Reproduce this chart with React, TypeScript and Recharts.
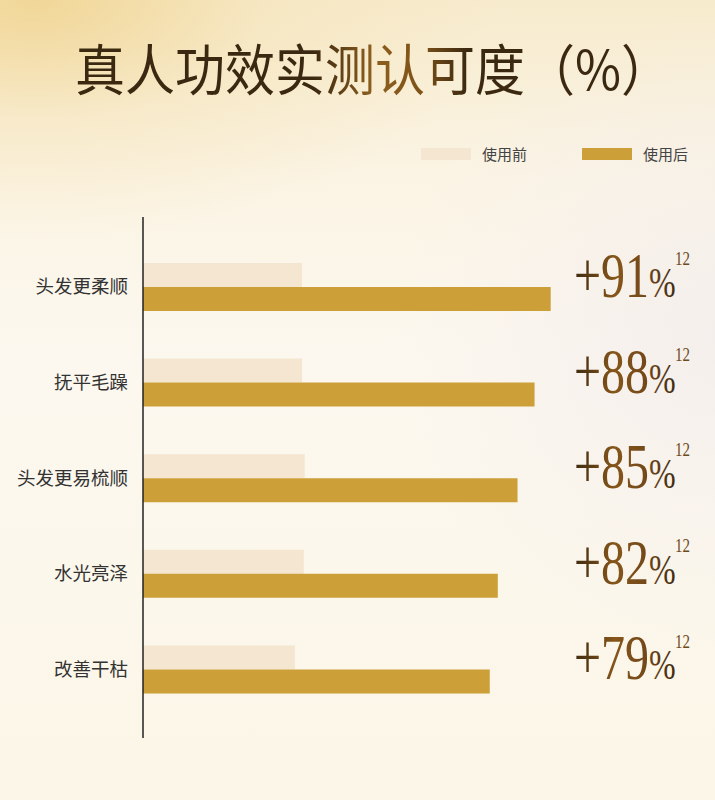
import { BarChart, Bar, XAxis, YAxis, Legend, LabelList } from "recharts";

const categories = ["头发更柔顺", "抚平毛躁", "头发更易梳顺", "水光亮泽", "改善干枯"];
const beforeValues = [35.5, 35.5, 36.1, 35.9, 33.9];
const afterValues = [91.0, 87.4, 83.6, 79.2, 77.4];
const gains = [91, 88, 85, 82, 79];
const footnote = "12";
const seriesNames = ["使用前", "使用后"];

const BEFORE_COLOR = "#f4e6d0";
const AFTER_COLOR = "#cc9f38";
const CJK = '"Noto Sans CJK SC", "Noto Sans", sans-serif';
const SERIF = '"Liberation Serif", serif';

const data = categories.map((name, i) => ({
  name,
  before: beforeValues[i],
  after: afterValues[i],
  gain: gains[i],
}));

// big "+91%" numbers on the right, a bit condensed like the original typeface
function GainLabel(props: any) {
  const { y, height, value } = props;
  const base = y + height / 2 - 2;
  return (
    <g transform={`translate(0 ${base}) scale(1 1.3)`}>
      <text x={574} y={0} fill="url(#numGrad)" fontFamily={SERIF}>
        <tspan fontSize={48}>{`+${value}`}</tspan>
        <tspan fontSize={32}>%</tspan>
      </text>
      <text x={675} y={-24.5} fill="#6b4a1c" fontSize={15} fontFamily={SERIF}>
        {footnote}
      </text>
    </g>
  );
}

function LegendContent() {
  const colors = [BEFORE_COLOR, AFTER_COLOR];
  const lefts = [421, 582];
  return (
    <div style={{ position: "relative", width: 715, height: 0 }}>
      {seriesNames.map((n, i) => (
        <div key={n} style={{ position: "absolute", left: lefts[i], top: 0, display: "flex", alignItems: "center" }}>
          <div style={{ width: 50, height: 12, background: colors[i] }} />
          <span style={{ marginLeft: 11, fontSize: 15, color: "#444", fontFamily: CJK, lineHeight: "12px" }}>{n}</span>
        </div>
      ))}
    </div>
  );
}

export default function App() {
  return (
    <div
      style={{
        position: "absolute",
        left: 0,
        top: 0,
        width: 715,
        height: 800,
        overflow: "hidden",
        background:
          "radial-gradient(ellipse 460px 240px at 5% 0%, rgba(240,212,145,0.9) 0%, rgba(245,226,180,0.45) 50%, rgba(251,246,234,0) 100%), radial-gradient(ellipse 320px 320px at 100% 42%, rgba(244,238,236,0.9) 0%, rgba(250,245,236,0) 100%), linear-gradient(180deg, #f7ebcd 0%, #fbf4e4 22%, #fcf8ef 45%, #fbf6e7 100%)",
      }}
    >
      <div
        style={{
          position: "absolute",
          left: 75,
          top: 35,
          whiteSpace: "nowrap",
          fontFamily: CJK,
          fontSize: 50,
          lineHeight: "56px",
          transform: "scaleY(1.1)",
          transformOrigin: "0 0",
          background: "linear-gradient(90deg, #3a2810 0%, #3a2810 40%, #8e5f1e 50%, #7e5218 58%, #3a2810 66%, #3a2810 100%)",
          WebkitBackgroundClip: "text",
          backgroundClip: "text",
          color: "transparent",
        }}
      >
        真人功效实测认可度（%）
      </div>
      <BarChart
        width={715}
        height={800}
        data={data}
        layout="vertical"
        margin={{ top: 217, right: 124, bottom: 62, left: 0 }}
        barGap={0}
        barSize={24}
      >
        <defs>
          <linearGradient id="numGrad" x1="0" y1="0" x2="1" y2="0">
            <stop offset="0%" stopColor="#3e2a10" />
            <stop offset="40%" stopColor="#86561a" />
            <stop offset="70%" stopColor="#74491a" />
            <stop offset="100%" stopColor="#3e2a10" />
          </linearGradient>
        </defs>
        <XAxis type="number" domain={[0, 100]} hide />
        <YAxis
          type="category"
          dataKey="name"
          width={143}
          padding={{ top: 22, bottom: 21 }}
          axisLine={{ stroke: "#222", strokeWidth: 1.5 }}
          tickLine={false}
          tickSize={0}
          tickMargin={15}
          tick={{ fontSize: 18.5, fill: "#333", fontFamily: CJK }}
        />
        <Legend content={<LegendContent />} wrapperStyle={{ position: "absolute", top: 148, left: 0, width: 715, height: 0 }} />
        <Bar dataKey="before" name={seriesNames[0]} fill={BEFORE_COLOR} isAnimationActive={false} />
        <Bar dataKey="after" name={seriesNames[1]} fill={AFTER_COLOR} isAnimationActive={false}>
          <LabelList dataKey="gain" content={<GainLabel />} />
        </Bar>
      </BarChart>
    </div>
  );
}
